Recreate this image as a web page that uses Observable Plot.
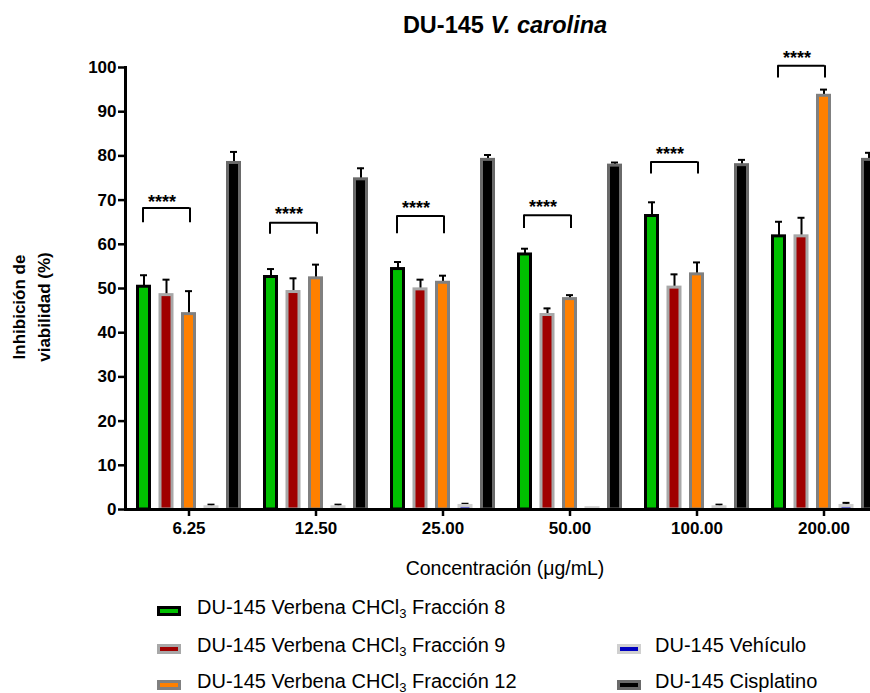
<!DOCTYPE html>
<html>
<head>
<meta charset="utf-8">
<script src="https://cdn.jsdelivr.net/npm/d3@7"></script>
<script src="https://cdn.jsdelivr.net/npm/@observablehq/plot@0.6"></script>
<style>
  html, body { margin: 0; padding: 0; background: #fff; overflow: hidden; }
  #wrap { position: relative; width: 870px; height: 693px; overflow: hidden; font-family: "Liberation Sans", Arial, sans-serif; color: #000; }
  #chart { position: absolute; left: 0; top: 0; }
  .abs { position: absolute; white-space: nowrap; }
  .title { font-size: 23.5px; font-weight: bold; line-height: 23.5px; }
  .xtitle { font-size: 19.5px; line-height: 19.5px; }
  .ytitle { font-size: 17px; font-weight: bold; line-height: 25px; text-align: center; }
  .leg { font-size: 20px; line-height: 20px; }
  .leg sub { font-size: 13px; line-height: 0; vertical-align: -4px; }
  .sw { position: absolute; width: 18px; height: 4px; border: 3px solid; }
</style>
</head>
<body>
<div id="wrap">
  <div id="chart"></div>
</div>
<script>
// ---- data ----
const concentrations = ["6.25", "12.50", "25.00", "50.00", "100.00", "200.00"];
const seriesNames = [
  "DU-145 Verbena CHCl3 Fracción 8",
  "DU-145 Verbena CHCl3 Fracción 9",
  "DU-145 Verbena CHCl3 Fracción 12",
  "DU-145 Vehículo",
  "DU-145 Cisplatino"
];
const fraccion8    = [50.4, 52.6, 54.4, 57.7, 66.4, 61.8];
const fraccion8Sd  = [2.6, 1.8, 1.6, 1.3, 3.1, 3.3];
const fraccion9    = [48.5, 49.2, 49.8, 44.0, 50.2, 61.8];
const fraccion9Sd  = [3.5, 3.1, 2.2, 1.5, 3.0, 4.2];
const fraccion12   = [44.2, 52.3, 51.3, 47.6, 53.2, 93.6];
const fraccion12Sd = [5.2, 3.1, 1.6, 0.9, 2.7, 1.4];
const vehiculo     = [0.5, 0.5, 0.8, 0.3, 0.5, 0.8];
const vehiculoSd   = [0.6, 0.6, 0.5, 0.0, 0.6, 0.7];
const cisplatino   = [78.4, 74.7, 79.1, 77.8, 77.9, 79.1];
const cisplatinoSd = [2.5, 2.5, 1.1, 0.7, 1.2, 1.6];
const yTicks = [0, 10, 20, 30, 40, 50, 60, 70, 80, 90, 100];
// significance brackets (Fracción 8 vs Fracción 12)
const bracketTop  = [68.2, 64.9, 66.4, 66.6, 78.6, 100.4];
const bracketFoot = [64.9, 62.3, 62.4, 63.6, 75.9, 97.6];
const starLevel   = [70.7, 68.0, 69.4, 69.6, 81.5, 103.2];
const starLabel   = ["****", "****", "****", "****", "****", "****"];

// ---- build tables ----
const means = [fraccion8, fraccion9, fraccion12, vehiculo, cisplatino];
const sds = [fraccion8Sd, fraccion9Sd, fraccion12Sd, vehiculoSd, cisplatinoSd];
const rows = [];
seriesNames.forEach((s, i) => concentrations.forEach((c, j) =>
  rows.push({series: s, conc: c, value: means[i][j], sd: sds[i][j]})));
const brackets = concentrations.map((c, j) => ({conc: c, top: bracketTop[j], foot: bracketFoot[j], star: starLevel[j], label: starLabel[j]}));

// ---- styles ----
const styles = [
  {fill: "#00c000", stroke: "#000000", dx: -45},
  {fill: "#a00000", stroke: "#a8a8a8", dx: -22.5},
  {fill: "#ff8000", stroke: "#808080", dx: 0},
  {fill: "#0000c0", stroke: "#d0d0d0", dx: 22.5},
  {fill: "#000000", stroke: "#6a6a6a", dx: 45}
];
const W = 887, ML = 125;
const bw = (W - ML) / concentrations.length;
const barW = 12, capW = 7;

const marks = [];
styles.forEach((st, i) => {
  const d = rows.filter(r => r.series === seriesNames[i]);
  marks.push(Plot.ruleX(d, {x: "conc", y1: "value", y2: r => r.value + r.sd, stroke: "#000", strokeWidth: 2, dx: st.dx}));
  marks.push(Plot.tickY(d, {x: "conc", y: r => r.value + r.sd, stroke: "#000", strokeWidth: 2,
    insetLeft: (bw - capW) / 2, insetRight: (bw - capW) / 2, dx: st.dx}));
  marks.push(Plot.barY(d, {x: "conc", y: "value", fill: st.fill, stroke: st.stroke, strokeWidth: 3,
    insetLeft: (bw - barW) / 2, insetRight: (bw - barW) / 2, dx: st.dx}));
});
// brackets
const bL = -46, bR = 1;
marks.push(Plot.tickY(brackets, {x: "conc", y: "top", stroke: "#000", strokeWidth: 2,
  insetLeft: bw / 2 + bL, insetRight: bw / 2 - bR}));
marks.push(Plot.ruleX(brackets, {x: "conc", y1: "foot", y2: "top", stroke: "#000", strokeWidth: 2, dx: bL}));
marks.push(Plot.ruleX(brackets, {x: "conc", y1: "foot", y2: "top", stroke: "#000", strokeWidth: 2, dx: bR}));
marks.push(Plot.text(brackets, {x: "conc", y: "star", text: "label", dx: -27, dy: 5, fontSize: 18, fontWeight: "bold"}));
// axes
marks.push(Plot.axisY({ticks: yTicks, tickSize: 7, tickPadding: 2, strokeWidth: 2.5, fontSize: 17, fontWeight: "bold", label: null}));
marks.push(Plot.axisX({tickSize: 7, tickPadding: 5, strokeWidth: 2.5, fontSize: 17, fontWeight: "bold", label: null}));
marks.push(Plot.frame({anchor: "left", stroke: "#000", strokeWidth: 3}));
marks.push(Plot.ruleY([0], {stroke: "#000", strokeWidth: 3}));

const chart = Plot.plot({
  width: W,
  height: 545,
  marginTop: 67,
  marginBottom: 36,
  marginLeft: ML,
  marginRight: 0,
  x: {domain: concentrations, padding: 0},
  y: {domain: [0, 100]},
  style: {fontFamily: "'Liberation Sans', Arial, sans-serif", fontWeight: "bold", fontSize: "17px", maxWidth: "none", overflow: "visible", color: "#000"},
  marks
});
document.getElementById("chart").appendChild(chart);

// ---- texts & legend ----
const wrap = document.getElementById("wrap");
function add(html, cls, css) {
  const el = document.createElement("div");
  el.className = "abs " + cls;
  el.innerHTML = html;
  Object.assign(el.style, css);
  wrap.appendChild(el);
  return el;
}
add("DU-145 <i>V. carolina</i>", "title", {left: "505px", top: "14px", transform: "translateX(-50%)"});
add("Concentración (μg/mL)", "xtitle", {left: "505px", top: "559px", transform: "translateX(-50%)"});
add("Inhibición de<br>viabilidad (%)", "ytitle", {left: "32px", top: "307px", transform: "translate(-50%,-50%) rotate(-90deg)"});

function legendLabel(name) {
  return name.replace("CHCl3", "CHCl<sub>3</sub>");
}
const legendPos = [
  {sx: 157, sy: 606, tx: 197, ty: 597},
  {sx: 157, sy: 644, tx: 197, ty: 635},
  {sx: 157, sy: 680, tx: 197, ty: 671},
  {sx: 617, sy: 644, tx: 655, ty: 635},
  {sx: 617, sy: 680, tx: 655, ty: 671}
];
seriesNames.forEach((s, i) => {
  const p = legendPos[i];
  const sw = document.createElement("div");
  sw.className = "sw";
  Object.assign(sw.style, {left: p.sx + "px", top: p.sy + "px", background: styles[i].fill, borderColor: styles[i].stroke});
  wrap.appendChild(sw);
  add(legendLabel(s), "leg", {left: p.tx + "px", top: p.ty + "px"});
});
</script>
</body>
</html>
